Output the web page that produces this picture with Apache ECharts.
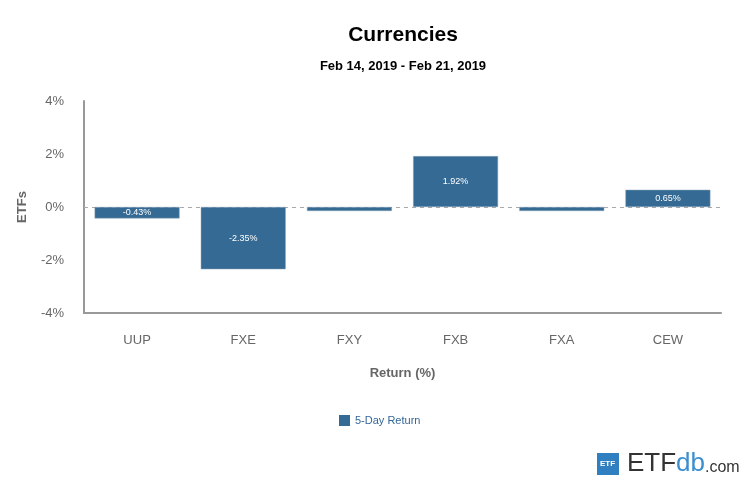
<!DOCTYPE html>
<html><head><meta charset="utf-8">
<script src="https://cdn.jsdelivr.net/npm/echarts@6/dist/echarts.min.js"></script>
<style>html,body{margin:0;padding:0;background:#fff}#c{width:750px;height:480px}</style>
</head><body><div id="c"></div>
<script>
const categories = ['UUP', 'FXE', 'FXY', 'FXB', 'FXA', 'CEW'];
const returns = [-0.43, -2.35, -0.15, 1.92, -0.15, 0.65];
const showLabel = [true, true, false, true, false, true];
const yTicks = [-4, -2, 0, 2, 4];

const chart = echarts.init(document.getElementById('c'));
const font = 'Arial, "Liberation Sans", sans-serif';
chart.setOption({
  animation: false,
  textStyle: { fontFamily: font },
  title: [
    { text: 'Currencies', left: 398, top: 20, textAlign: 'center',
      textStyle: { fontSize: 21, fontWeight: 'bold', color: '#000', fontFamily: font } },
    { text: 'Feb 14, 2019 - Feb 21, 2019', left: 398, top: 55, textAlign: 'center',
      textStyle: { fontSize: 13, fontWeight: 'bold', color: '#000', fontFamily: font } }
  ],
  legend: {
    data: ['5-Day Return'], top: 410, left: 334,
    itemWidth: 11, itemHeight: 11, icon: 'rect', itemGap: 6,
    itemStyle: { borderWidth: 0 },
    textStyle: { color: '#336699', fontSize: 11, fontFamily: font }
  },
  grid: { left: 84, right: 29, top: 101, bottom: 167 },
  xAxis: {
    type: 'category', data: categories,
    name: 'Return (%)', nameLocation: 'middle', nameGap: 54,
    nameTextStyle: { fontSize: 13, fontWeight: 'bold', color: '#666', fontFamily: font },
    axisLine: { onZero: false, lineStyle: { color: '#999', width: 2 } },
    axisTick: { show: false },
    axisLabel: { color: '#666', fontSize: 13, margin: 21, fontFamily: font }
  },
  yAxis: {
    type: 'value', min: -4, max: 4, interval: 2,
    name: 'ETFs', nameLocation: 'middle', nameGap: 55, nameRotate: 90,
    nameTextStyle: { fontSize: 13, fontWeight: 'bold', color: '#666', fontFamily: font },
    axisLine: { show: true, lineStyle: { color: '#999', width: 2 } },
    axisTick: { show: false },
    splitLine: { show: false },
    axisLabel: { color: '#666', fontSize: 13, margin: 20, fontFamily: font,
      formatter: v => yTicks.includes(v) ? v + '%' : '' }
  },
  series: [{
    name: '5-Day Return', type: 'bar', barWidth: '80%',
    itemStyle: { color: '#346a93', borderColor: '#8aa4b8', borderWidth: 0.5 },
    data: returns.map((v, i) => ({
      value: v,
      label: { show: showLabel[i], position: 'inside', formatter: v.toFixed(2) + '%',
        color: '#fff', fontSize: 9, fontFamily: font }
    })),
    markLine: {
      silent: true, symbol: 'none', label: { show: false },
      lineStyle: { color: '#aaa', type: [4, 4], width: 1 },
      data: [{ yAxis: 0 }], z: 1
    }
  }],
  graphic: [
    { type: 'rect', left: 597, top: 453, shape: { width: 22, height: 22 }, style: { fill: '#2f7fc1' } },
    { type: 'text', left: 600, top: 460, style: { text: 'ETF', fill: '#fff', font: 'bold 8px ' + font } },
    { type: 'text', left: 627, top: 451, style: {
        text: '{a|ETF}{b|db}{c|.com}',
        rich: {
          a: { fill: '#333', fontSize: 26, fontFamily: font },
          b: { fill: '#3a8fd0', fontSize: 26, fontFamily: font },
          c: { fill: '#333', fontSize: 16, fontFamily: font, padding: [7, 0, 0, 0] }
        } } }
  ]
});
</script></body></html>
